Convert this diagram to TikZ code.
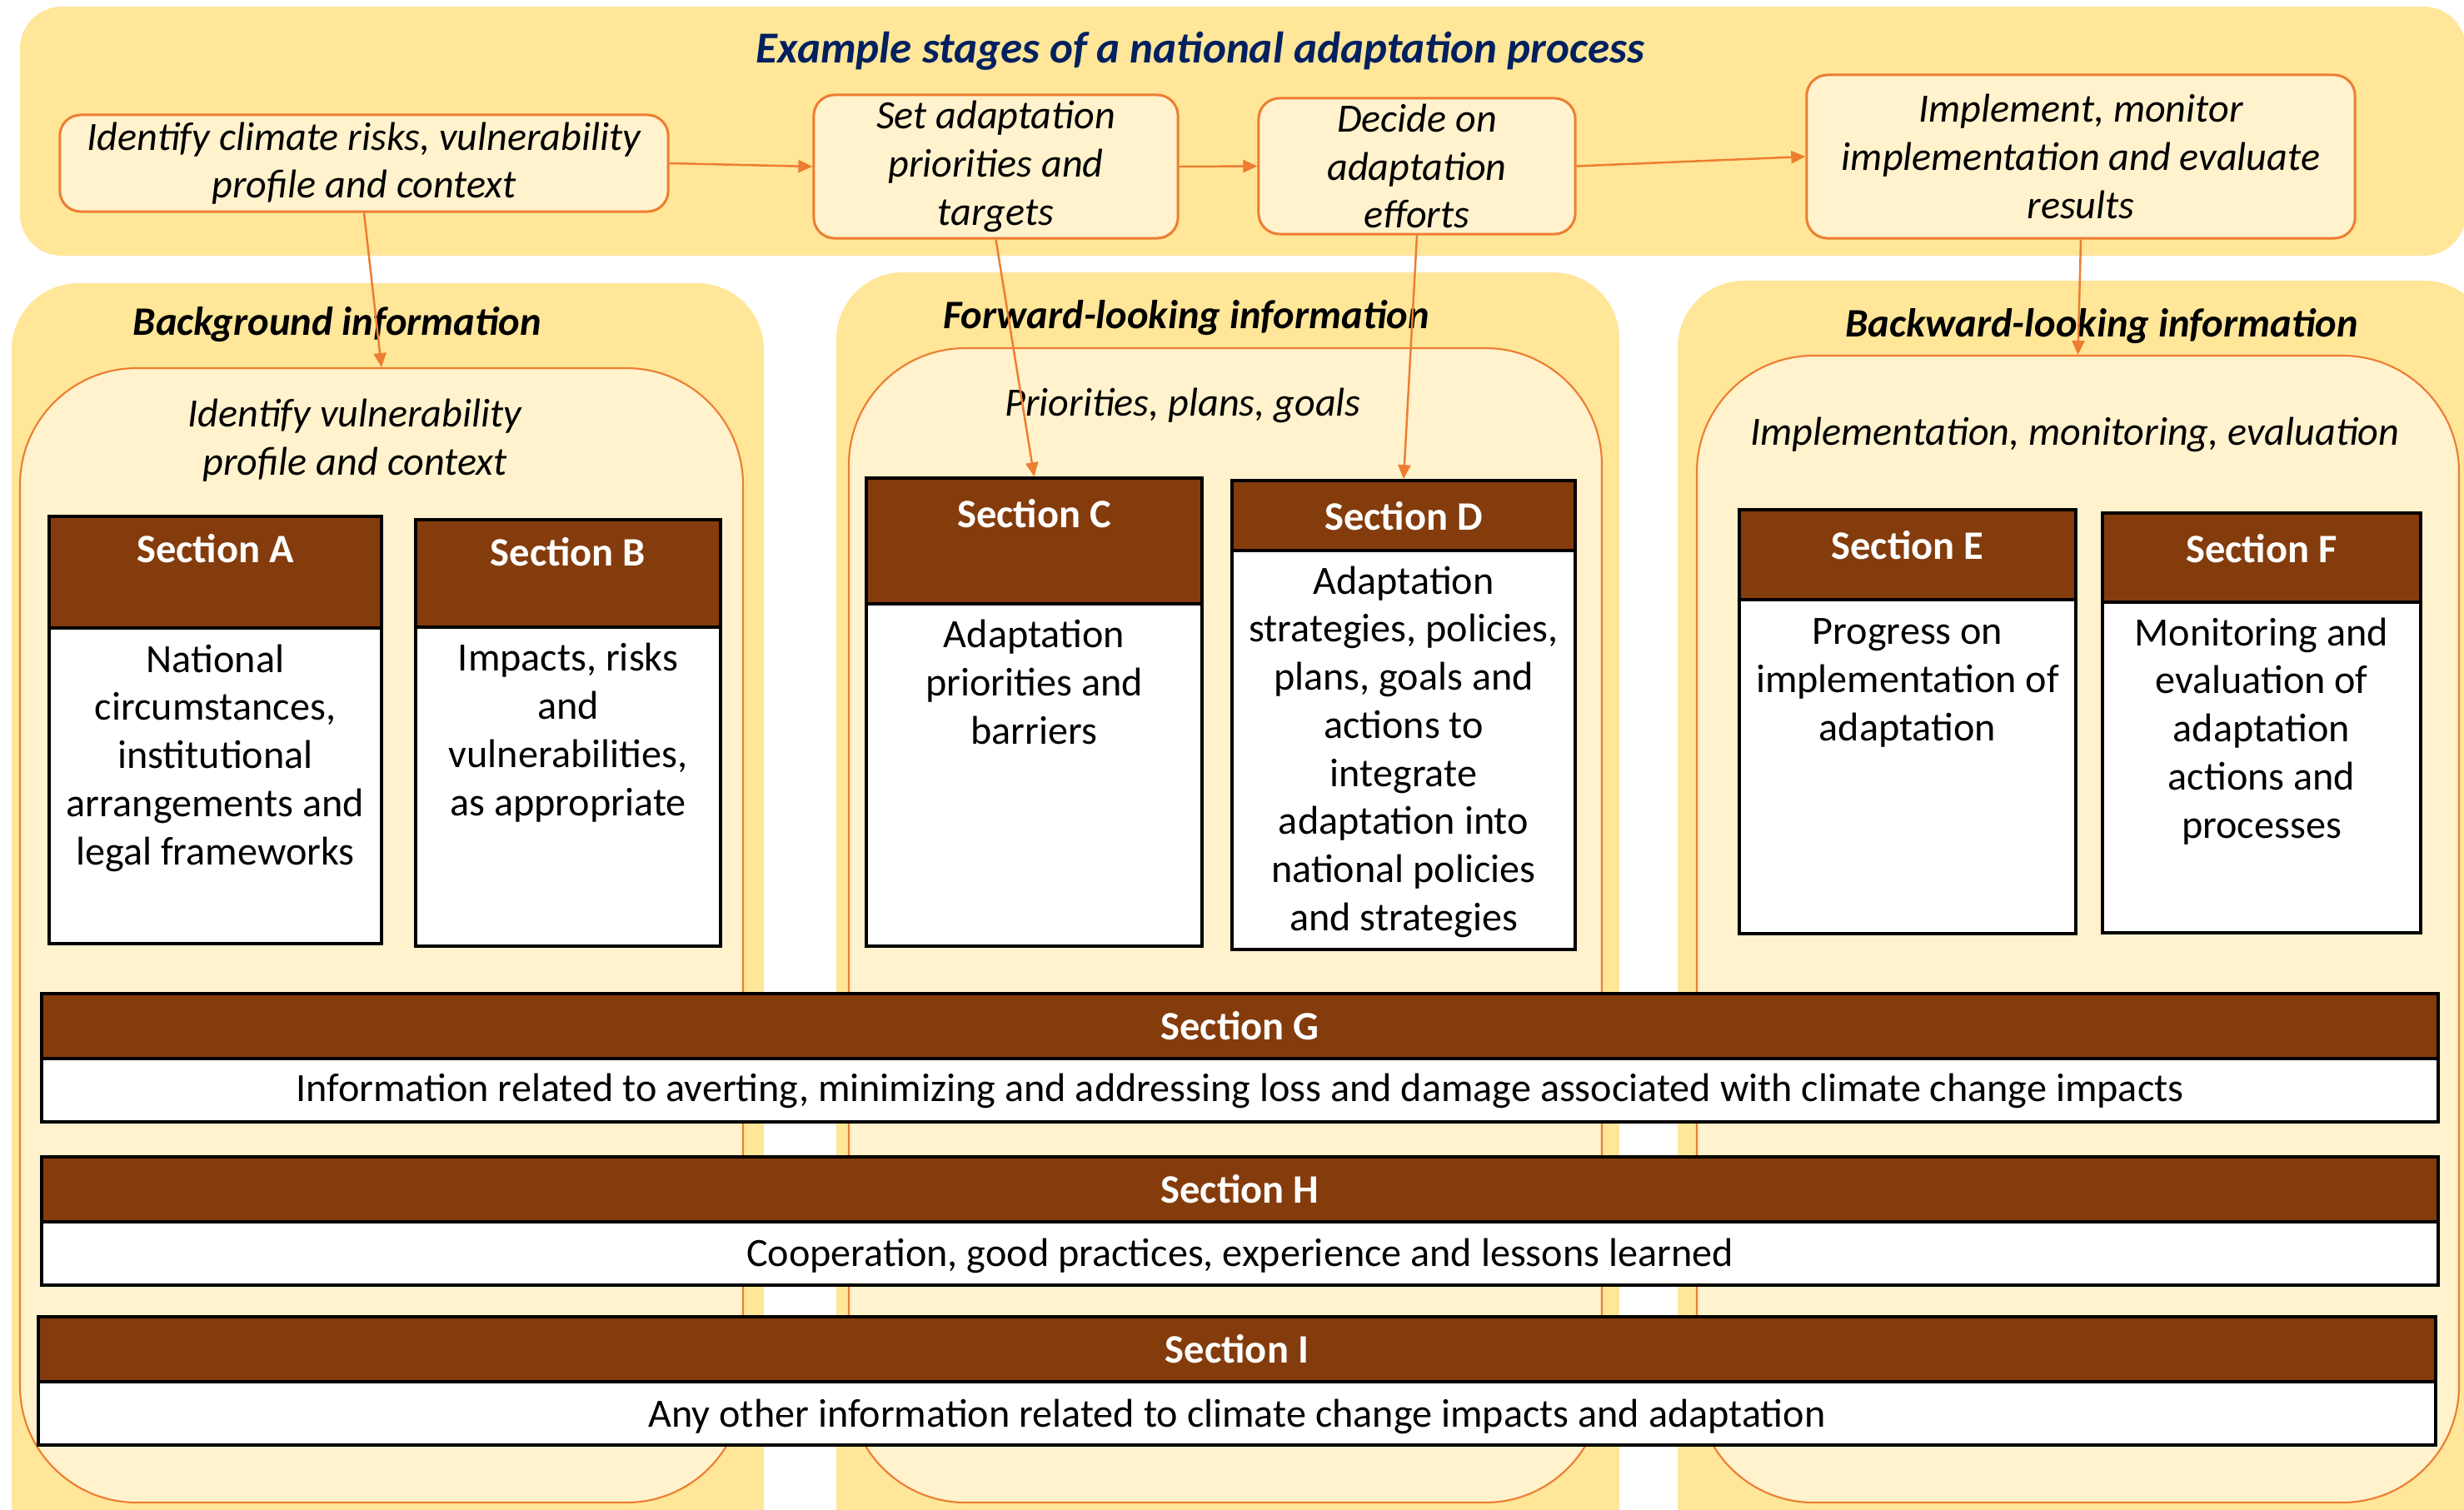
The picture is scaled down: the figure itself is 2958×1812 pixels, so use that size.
\documentclass[tikz,border=0pt]{standalone}
\usepackage{fontspec}
\setmainfont{Carlito}
\usetikzlibrary{arrows.meta,fit,positioning}
\definecolor{panelgold}{HTML}{FFE699}
\definecolor{panellight}{HTML}{FFF2CC}
\definecolor{edgeorange}{HTML}{ED7D31}
\definecolor{secbrown}{HTML}{843C0C}
\definecolor{titlenavy}{HTML}{002060}
\newcommand{\diagtext}{\fontsize{13.7pt}{16.4pt}\selectfont}
\newcommand{\diaghead}{\fontsize{13.8pt}{16.4pt}\selectfont\bfseries}
\newcommand{\diagtitle}{\fontsize{15.1pt}{18pt}\selectfont\bfseries\itshape}

\begin{document}
\begin{tikzpicture}[x=0.01cm, y=-0.01cm,
	band/.style={fill=panelgold, draw=none, rounded corners=0.5cm, inner sep=0},
	panel/.style={fill=panelgold, draw=none, rounded corners=0.8cm, inner sep=0},
	innerbox/.style={fill=panellight, draw=edgeorange, line width=0.6pt, rounded corners=1.4cm, inner sep=0},
	stage/.style={fill=panellight, draw=edgeorange, line width=0.85pt, rounded corners=0.25cm, inner sep=0, align=center, font=\diagtext\itshape},
	head/.style={fill=secbrown, draw=black, line width=1pt, inner sep=0},
	body/.style={fill=white, draw=black, line width=1pt, inner sep=0},
	headtext/.style={text=white, font=\diaghead, anchor=base, inner sep=0},
	bodytext/.style={align=center, font=\diagtext, anchor=base, inner sep=0},
	paneltitle/.style={font=\diaghead\itshape, anchor=base, inner sep=0},
	subtitle/.style={align=center, font=\diagtext\itshape, anchor=base, inner sep=0},
	flow/.style={draw=edgeorange, line width=0.7pt, -{Triangle[length=0.17cm,width=0.15cm]}}]
	\useasboundingbox (0,0) rectangle (2958,1812);
	\clip (0,0) rectangle (2958,1812);

	% process band
	\node (band) [band, fit={(24,8) (2960,307)}] {};
	\node (title) [font=\diagtitle, text=titlenavy, anchor=base, inner sep=0] at (1441,75) {Example stages of a national adaptation process};
	\node (stage1) [stage, minimum width=7.3cm, minimum height=1.16cm] at (437,196) {Identify climate risks, vulnerability\\profile and context};
	\node (stage2) [stage, minimum width=4.37cm, minimum height=1.72cm] at (1195.5,200) {Set adaptation\\priorities and\\targets};
	\node (stage3) [stage, minimum width=3.8cm, minimum height=1.63cm] at (1701,199.5) {Decide on\\adaptation\\efforts};
	\node (stage4) [stage, minimum width=6.58cm, minimum height=1.96cm] at (2498,188) {Implement, monitor\\implementation and evaluate\\results};

	% information panels (multi-line texts sit on their last line)
	\node (panelA) [panel, fit={(14,340) (917,1900)}] {};
	\node (panelB) [panel, fit={(1004,327) (1944,1900)}] {};
	\node (panelC) [panel, fit={(2014,337) (2990,1900)}] {};
	\node (innerA) [innerbox, fit={(24,442) (892,1804)}] {};
	\node (innerB) [innerbox, fit={(1019,418) (1923,1804)}] {};
	\node (innerC) [innerbox, fit={(2037,427) (2952,1804)}] {};
	\node (titleA) [paneltitle] at (405,402) {Background information};
	\node (titleB) [paneltitle] at (1424,394) {Forward-looking information};
	\node (titleC) [paneltitle] at (2523,404) {Backward-looking information};
	\node (subA) [subtitle] at (426,570) {Identify vulnerability\\profile and context};
	\node (subB) [subtitle] at (1420,499) {Priorities, plans, goals};
	\node (subC) [subtitle] at (2491,534) {Implementation, monitoring, evaluation};

	% sections A--F
	\node (headA) [head, fit={(59,620) (458,754)}] {};
	\node (bodyA) [body, fit={(59,754) (458,1133)}] {};
	\node (labA) [headtext] at (258.5,675) {Section A};
	\node (txtA) [bodytext] at (258.5,1038) {National\\circumstances,\\institutional\\arrangements and\\legal frameworks};
	\node (headB) [head, fit={(499,624) (865,753)}] {};
	\node (bodyB) [body, fit={(499,753) (865,1136)}] {};
	\node (labB) [headtext] at (682,679) {Section B};
	\node (txtB) [bodytext] at (682,979) {Impacts, risks\\and\\vulnerabilities,\\as appropriate};
	\node (headC) [head, fit={(1040,574) (1443,725)}] {};
	\node (bodyC) [body, fit={(1040,725) (1443,1136)}] {};
	\node (labC) [headtext] at (1241.5,633) {Section C};
	\node (txtC) [bodytext] at (1241.5,893) {Adaptation\\priorities and\\barriers};
	\node (headD) [head, fit={(1479,577) (1891,661)}] {};
	\node (bodyD) [body, fit={(1479,661) (1891,1140)}] {};
	\node (labD) [headtext] at (1685,636) {Section D};
	\node (txtD) [bodytext] at (1685,1117) {Adaptation\\strategies, policies,\\plans, goals and\\actions to\\integrate\\adaptation into\\national policies\\and strategies};
	\node (headE) [head, fit={(2088,612) (2492,720)}] {};
	\node (bodyE) [body, fit={(2088,720) (2492,1121)}] {};
	\node (labE) [headtext] at (2290,671) {Section E};
	\node (txtE) [bodytext] at (2290,889) {Progress on\\implementation of\\adaptation};
	\node (headF) [head, fit={(2524,616) (2906,723)}] {};
	\node (bodyF) [body, fit={(2524,723) (2906,1120)}] {};
	\node (labF) [headtext] at (2715,675) {Section F};
	\node (txtF) [bodytext] at (2715,1006) {Monitoring and\\evaluation of\\adaptation\\actions and\\processes};

	% sections G--I across all panels
	\node (headG) [head, fit={(50,1193) (2927,1271)}] {};
	\node (bodyG) [body, fit={(50,1271) (2927,1347)}] {};
	\node (labG) [headtext] at (1488.5,1248) {Section G};
	\node (txtG) [bodytext] at (1488.5,1322) {Information related to averting, minimizing and addressing loss and damage associated with climate change impacts};
	\node (headH) [head, fit={(50,1389) (2927,1467)}] {};
	\node (bodyH) [body, fit={(50,1467) (2927,1543)}] {};
	\node (labH) [headtext] at (1488.5,1444) {Section H};
	\node (txtH) [bodytext] at (1488.5,1520) {Cooperation, good practices, experience and lessons learned};
	\node (headI) [head, fit={(46,1581) (2924,1659)}] {};
	\node (bodyI) [body, fit={(46,1659) (2924,1735)}] {};
	\node (labI) [headtext] at (1485,1636) {Section I};
	\node (txtI) [bodytext] at (1485,1713) {Any other information related to climate change impacts and adaptation};

	% connectors
	\draw[flow] (stage1.east) -- (stage2.west);
	\draw[flow] (stage2.east) -- (stage3.west);
	\draw[flow] (stage3.east) -- (stage4.west);
	\draw[flow] (stage1.south) -- (innerA.north);
	\draw[flow] (stage2.south) -- (headC.north);
	\draw[flow] (stage3.south) -- (headD.north);
	\draw[flow] (stage4.south) -- (innerC.north);
\end{tikzpicture}
\end{document}
